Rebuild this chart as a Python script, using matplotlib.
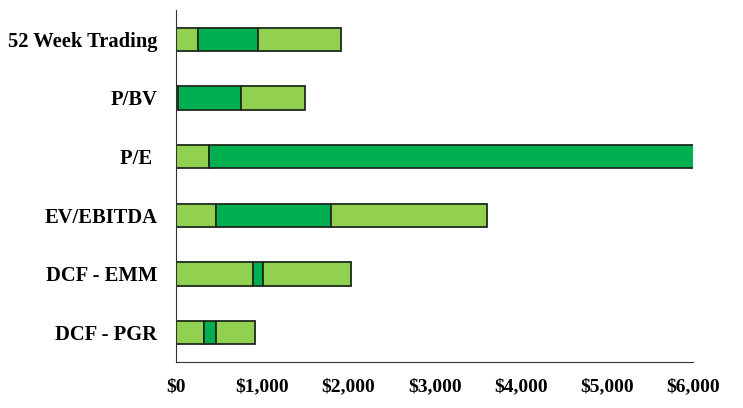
import matplotlib.pyplot as plt
from matplotlib.ticker import FuncFormatter

# Data (valuation ranges, $)
methods = ["DCF - PGR", "DCF - EMM", "EV/EBITDA", "P/E ", "P/BV", "52 Week Trading"]
low_edge = [322, 894, 461, 380, 25, 255]      # end of first light segment
high_edge = [461, 1010, 1797, 6100, 748, 952]  # end of dark segment
top_edge = [918, 2025, 3612, 6100, 1498, 1913] # end of last light segment

light = "#92D050"
dark = "#00B050"
edge = "#1c2b1c"

plt.rcParams['font.family'] = ['Liberation Serif', 'DejaVu Serif']

fig = plt.figure(figsize=(7.43, 4.08), dpi=100)
ax = fig.add_axes([0.237, 0.1127, 0.696, 0.863])

y = range(len(methods))
h = 0.4
seg1 = low_edge
seg2 = [b - a for a, b in zip(low_edge, high_edge)]
seg3 = [c - b for b, c in zip(high_edge, top_edge)]

ax.barh(y, seg1, height=h, color=light, edgecolor=edge, linewidth=1.3)
ax.barh(y, seg2, left=low_edge, height=h, color=dark, edgecolor=edge, linewidth=1.3)
ax.barh(y, seg3, left=high_edge, height=h, color=light, edgecolor=edge, linewidth=1.3)

ax.set_xlim(0, 6000)
ax.set_ylim(-0.5, 5.5)
ax.set_xticks(range(0, 6001, 1000))
ax.xaxis.set_major_formatter(FuncFormatter(lambda v, p: "${:,.0f}".format(v)))
ax.set_yticks(list(y))
ax.set_yticklabels(methods)

for lbl in ax.get_xticklabels():
    lbl.set_fontweight('bold')
    lbl.set_fontsize(14)
for lbl in ax.get_yticklabels():
    lbl.set_fontweight('bold')
    lbl.set_fontsize(14.8)

ax.tick_params(axis='both', length=0)
ax.tick_params(axis='x', pad=12)
ax.tick_params(axis='y', pad=13.5)

ax.spines['top'].set_visible(False)
ax.spines['right'].set_visible(False)
ax.spines['left'].set_color('#333333')
ax.spines['bottom'].set_color('#333333')

fig.savefig("out.png", dpi=100)
